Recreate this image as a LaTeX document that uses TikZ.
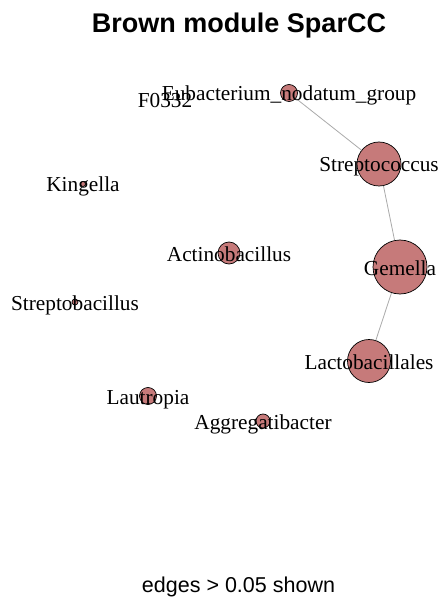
\documentclass[tikz,border=0pt]{standalone}
\usepackage{fontspec}
\setmainfont{Liberation Serif}
\newfontfamily\headfont{Liberation Sans}
\begin{document}
\begin{tikzpicture}[x=1pt,y=-1pt,
  vertex/.style={circle,draw=black,line width=0.7pt,fill=vfill,inner sep=0pt,minimum size=#1},
  vlabel/.style={font=\fontsize{21.3}{23}\selectfont,text=black,inner sep=0pt,anchor=base,yshift=-8pt},
  link/.style={draw=edgegray,line width=0.8pt}]
\definecolor{vfill}{RGB}{198,122,122}
\definecolor{edgegray}{RGB}{170,170,170}
\useasboundingbox[fill=white] (0,0) rectangle (438,601);

% title and caption
\node[font=\headfont\bfseries\fontsize{27}{30}\selectfont] (title) at (239,26) {Brown module SparCC};
\node[font=\headfont\fontsize{21.5}{24}\selectfont] (caption) at (238.5,587) {edges > 0.05 shown};

% vertices (size from module membership)
\node[vertex=0pt,draw=none,fill=none] (f0332) at (165,100) {};
\node[vertex=17pt] (eubac) at (289,93) {};
\node[vertex=44pt] (strep) at (379,164) {};
\node[vertex=5pt] (king) at (83,184) {};
\node[vertex=22pt] (actino) at (229,253) {};
\node[vertex=54pt] (gem) at (400,267) {};
\node[vertex=6pt] (streptob) at (75,302) {};
\node[vertex=43pt] (lacto) at (369,361) {};
\node[vertex=17pt] (laut) at (148,396) {};
\node[vertex=14pt] (aggr) at (263,421) {};

% correlations above threshold
\draw[link] (eubac) -- (strep);
\draw[link] (strep) -- (gem);
\draw[link] (gem) -- (lacto);

% vertex labels on top
\node[vlabel] at (f0332) {F0332};
\node[vlabel] at (eubac) {Eubacterium\_nodatum\_group};
\node[vlabel] at (strep) {Streptococcus};
\node[vlabel] at (king) {Kingella};
\node[vlabel] at (actino) {Actinobacillus};
\node[vlabel] at (gem) {Gemella};
\node[vlabel] at (streptob) {Streptobacillus};
\node[vlabel] at (lacto) {Lactobacillales};
\node[vlabel] at (laut) {Lautropia};
\node[vlabel] at (aggr) {Aggregatibacter};
\end{tikzpicture}
\end{document}
